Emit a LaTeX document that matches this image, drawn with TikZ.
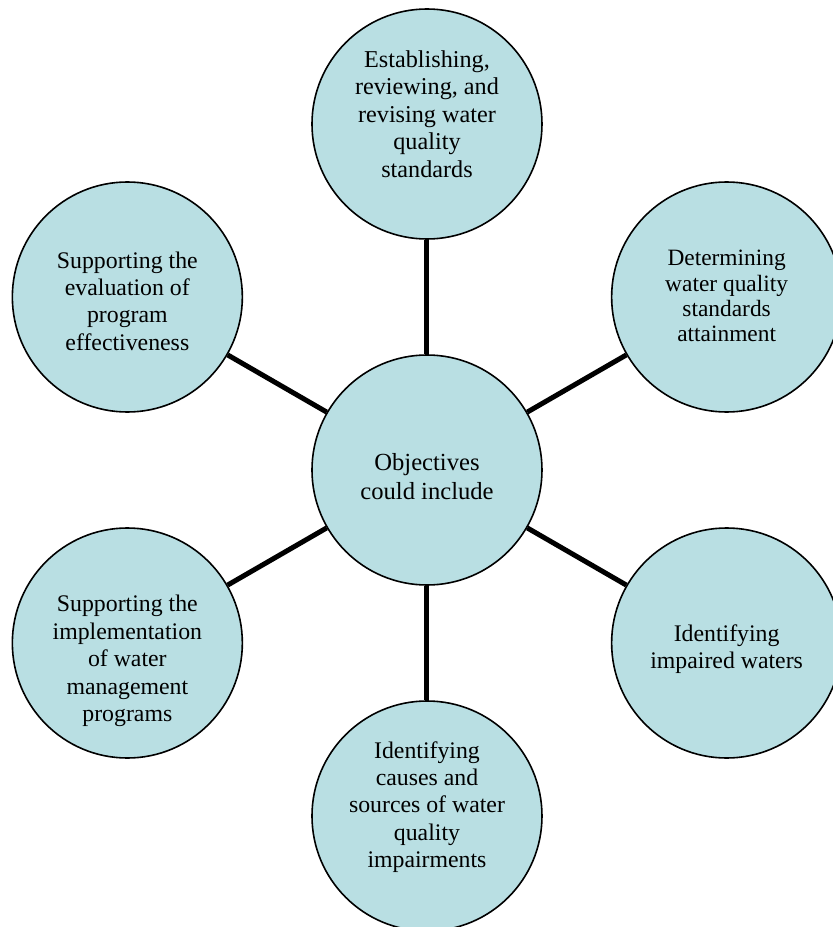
\documentclass[tikz,border=0pt]{standalone}
\usepackage{fontspec}
\setmainfont{Liberation Serif}
\usepackage{tikz}
\definecolor{pale}{RGB}{185,223,227}
\tikzstyle{hub} = [draw, fill=pale, circle, line width=0.8pt,
    minimum size=115pt, inner sep=0pt]
\tikzstyle{spoke} = [hub]
\tikzstyle{words} = [align=center, inner sep=0pt,
    font=\fontsize{11.9}{13.7}\selectfont]
\tikzstyle{link} = [draw, line width=2.5pt]

\begin{document}
\begin{tikzpicture}
    % page frame
    \useasboundingbox (-213.5pt,-228.5pt) rectangle (203pt,235pt);

    % centre circle
    \node [hub] (goal) at (0,0) {};

    % six circles round it
    \node [spoke] (standards) at (90:173pt) {};
    \node [spoke] (attain) at (30:173pt) {};
    \node [spoke] (impaired) at (-30:173pt) {};
    \node [spoke] (causes) at (-90:173pt) {};
    \node [spoke] (implement) at (-150:173pt) {};
    \node [spoke] (evaluate) at (150:173pt) {};

    % text in the circles
    \node [words, font=\fontsize{12.3}{14.5}\selectfont,
        yshift=-3.5pt] (goal-t) at (goal) {Objectives\\could include};
    \node [words, font=\fontsize{12.1}{13.8}\selectfont,
        yshift=5pt] (standards-t) at (standards)
        {Establishing,\\reviewing, and\\revising water\\quality\\standards};
    \node [words, font=\fontsize{11.7}{12.6}\selectfont,
        yshift=0.5pt] (attain-t) at (attain)
        {Determining\\water quality\\standards\\attainment};
    \node [words, yshift=-3pt] (impaired-t) at (impaired)
        {Identifying\\impaired waters};
    \node [words, yshift=4.5pt] (causes-t) at (causes)
        {Identifying\\causes and\\sources of water\\quality\\impairments};
    \node [words, yshift=-9pt] (implement-t) at (implement)
        {Supporting the\\implementation\\of water\\management\\programs};
    \node [words, yshift=-2pt] (evaluate-t) at (evaluate)
        {Supporting the\\evaluation of\\program\\effectiveness};

    % spokes
    \draw [link] (goal) -- (standards);
    \draw [link] (goal) -- (attain);
    \draw [link] (goal) -- (impaired);
    \draw [link] (goal) -- (causes);
    \draw [link] (goal) -- (implement);
    \draw [link] (goal) -- (evaluate);
\end{tikzpicture}
\end{document}
